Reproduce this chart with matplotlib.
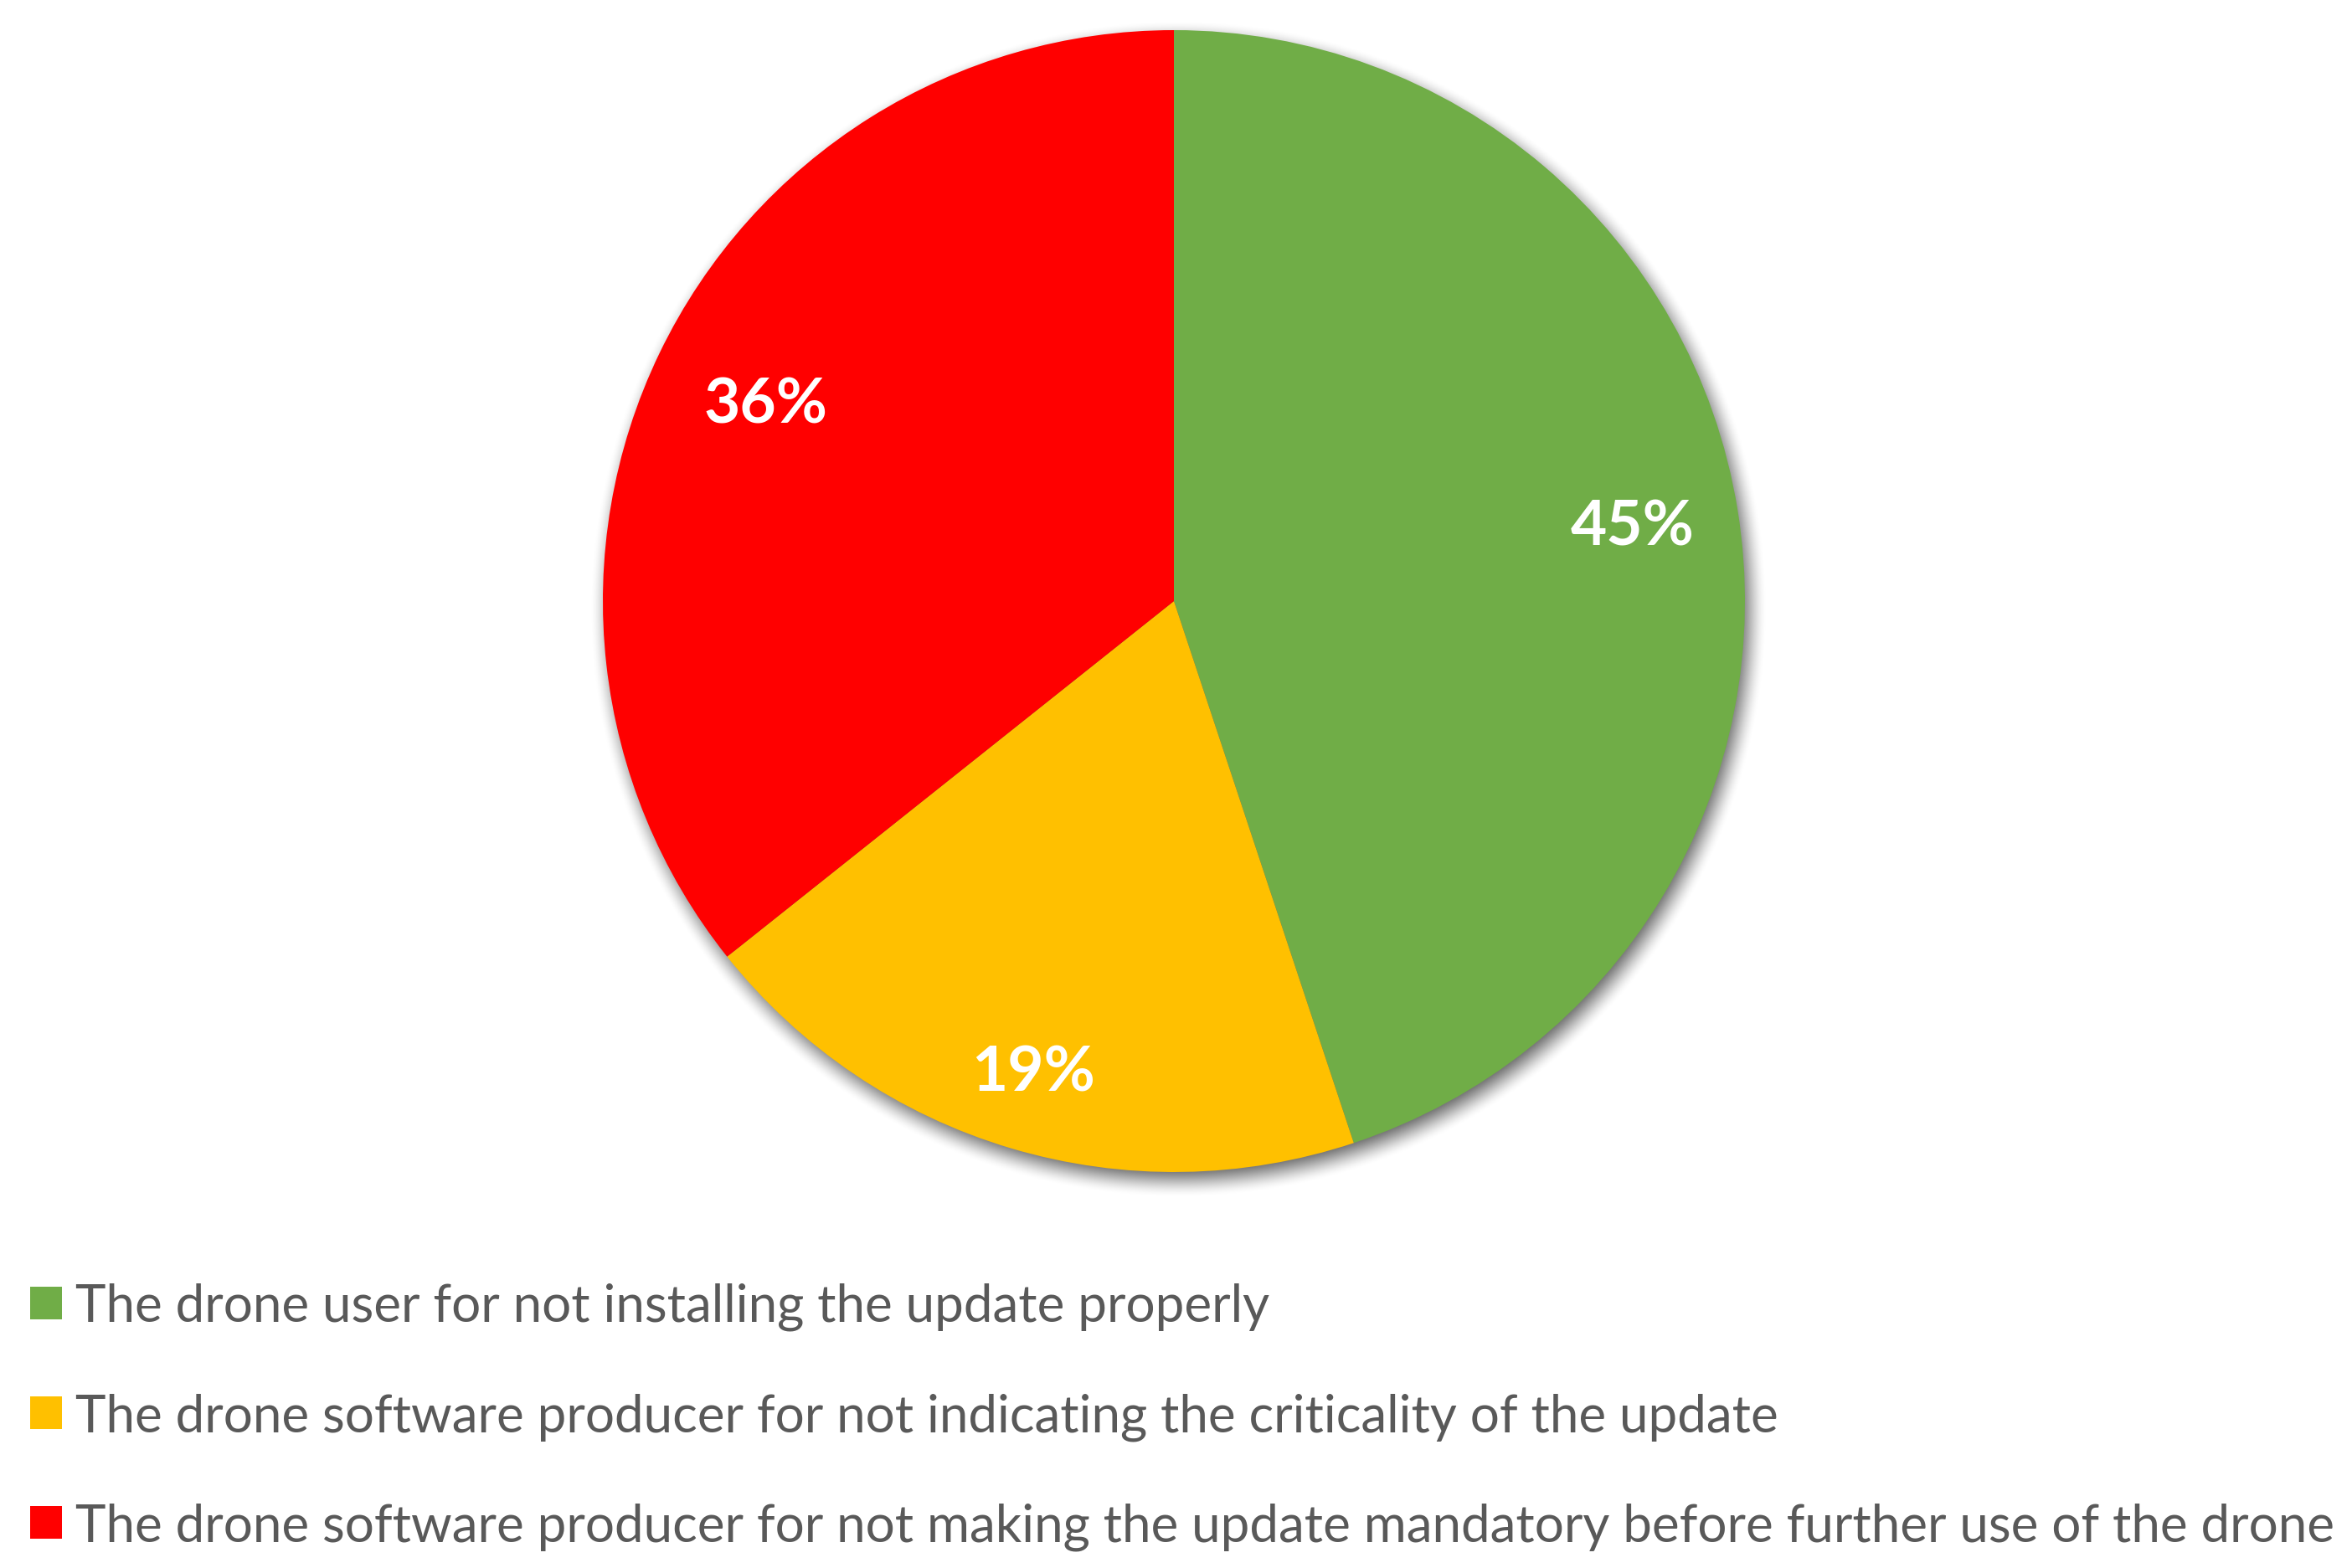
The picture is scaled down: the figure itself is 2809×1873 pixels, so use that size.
#!/usr/bin/env python3
import numpy as np
import matplotlib
matplotlib.use('Agg')
import matplotlib.pyplot as plt

labels = ['The drone user for not installing the update properly',
          'The drone software producer for not indicating the criticality of the update',
          'The drone software producer for not making the update mandatory before further use of the drone']
shares = [44.9, 19.4, 35.7]
pct_text = ['45%', '19%', '36%']
colors = ['#70AD47', '#FFC000', '#FF0000']

W, H, DPI = 2809, 1874, 100
CX, CY, R = 1402, 719, 682   # pie centre / radius in pixels
PAD = 1.15                   # axes half-size in radius units (room for shadow)
TEXT_GREY = '#595959'
FONT = 'Lato'


def fit_size(fig, text, width_px, weight='normal', start=40):
    # find a font size so the string is width_px wide
    t = fig.text(0, 0, text, fontsize=start, family=FONT, weight=weight)
    fig.canvas.draw()
    w = t.get_window_extent().width
    t.remove()
    return start * width_px / w


def add_shadow(ax):
    # soft blurred drop shadow below the pie
    n = 700
    xs = np.linspace(-PAD, PAD, n)
    xx, yy = np.meshgrid(xs, xs)
    dx, dy = 5 / R, -10 / R
    d = np.hypot(xx - dx, yy - dy)
    blur = 44 / R
    a = np.clip((1.0 + blur / 2 - d) / blur, 0, 1)
    a = a * a * (3 - 2 * a) * 0.65
    img = np.zeros((n, n, 4))
    img[..., 3] = a
    ax.imshow(img, extent=(-PAD, PAD, -PAD, PAD), origin='lower',
              zorder=0, interpolation='bilinear')


def main():
    fig = plt.figure(figsize=(W / DPI, H / DPI), dpi=DPI)
    fig.patch.set_facecolor('white')

    ax = fig.add_axes([(CX - PAD * R) / W, (H - CY - PAD * R) / H,
                       2 * PAD * R / W, 2 * PAD * R / H])
    ax.axis('off')

    add_shadow(ax)

    wedges, _ = ax.pie(shares, colors=colors, startangle=90, counterclock=False,
                       radius=1, wedgeprops=dict(linewidth=0))
    for w in wedges:
        w.set_zorder(2)
    ax.set_xlim(-PAD, PAD)
    ax.set_ylim(-PAD, PAD)
    ax.set_aspect('equal')

    # percentage labels at the wedge middles
    label_dist = [0.814, 0.862, 0.794]
    pct_size = fit_size(fig, '36%', 148, weight='bold', start=54)
    for w, txt, dist in zip(wedges, pct_text, label_dist):
        ang = np.deg2rad((w.theta1 + w.theta2) / 2)
        ax.text(dist * np.cos(ang), dist * np.sin(ang), txt, ha='center', va='center',
                fontsize=pct_size, family=FONT, weight='bold', color='white', zorder=3)

    leg_size = fit_size(fig, labels[2], 2696, start=40)
    em = leg_size * DPI / 72
    leg = fig.legend(wedges, labels, loc='upper left',
                     bbox_to_anchor=(36 / W, 1 - 1533 / H),
                     frameon=False,
                     prop=dict(family=FONT, size=leg_size),
                     handlelength=38 / em, handleheight=37 / em,
                     handletextpad=16 / em, labelspacing=1.19,
                     borderpad=0, borderaxespad=0)
    for t in leg.get_texts():
        t.set_color(TEXT_GREY)

    fig.savefig('out.png', dpi=DPI, facecolor='white')


if __name__ == '__main__':
    main()
